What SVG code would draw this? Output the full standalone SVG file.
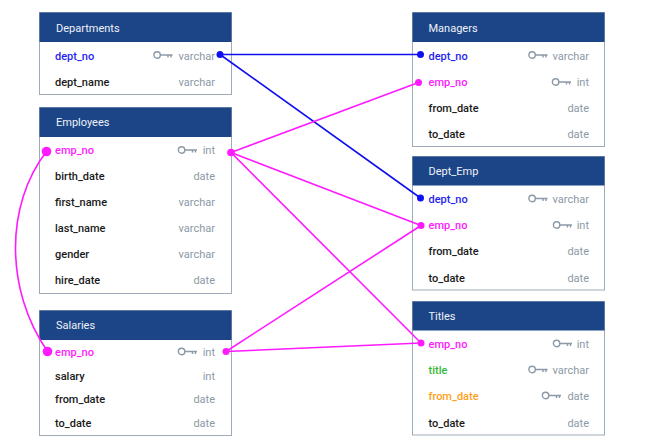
<svg xmlns="http://www.w3.org/2000/svg" width="647" height="448" viewBox="0 0 647 448">
  <style>
    .box { fill: #ffffff; stroke: #9eabb8; stroke-width: 1; }
    .hdr { fill: #1c4587; }
    .ttl { font-family: Roboto, "Liberation Sans", sans-serif; font-size: 11px; fill: #eef2f8; }
    .fld { font-family: Roboto, "Liberation Sans", sans-serif; font-size: 11px; font-weight: 500; fill: #1a1a1a; }
    .typ { font-family: Roboto, "Liberation Sans", sans-serif; font-size: 11px; fill: #8c99a6; text-anchor: end; }
    .pk-blue { fill: #1f1fef; }
    .pk-mag { fill: #ff1aff; }
    .pk-green { fill: #33b833; }
    .pk-orange { fill: #ff9f1a; }
    .key { fill: none; stroke: #8c99a6; stroke-width: 1.4; }
    .lb { fill: none; stroke: #1010ee; stroke-width: 1.6; }
    .lm { fill: none; stroke: #ff1aff; stroke-width: 1.6; }
    .db { fill: #1010ee; }
    .dm { fill: #ff1aff; }
  </style>
  <defs>
    <!-- key glyph: ring + shaft with two teeth, origin at left edge, vertical centre -->
    <g id="key">
      <circle class="key" cx="3.6" cy="0" r="3.2"/>
      <path class="key" d="M6.8,0 H19 M14.5,0 V2.6 M17.5,0 V2.6"/>
    </g>
  </defs>

  <rect width="647" height="448" fill="#ffffff"/>

  <!-- Departments -->
  <g id="departments">
    <rect class="box" x="39.5" y="12.5" width="192" height="82"/>
    <rect class="hdr" x="39.5" y="12.5" width="192" height="29.5"/>
    <text class="ttl" x="56" y="31.5">Departments</text>
    <text class="fld pk-blue" x="55" y="59.5">dept_no</text>
    <use href="#key" x="153.5" y="55"/>
    <text class="typ" x="215" y="59.5">varchar</text>
    <text class="fld" x="55" y="85.5">dept_name</text>
    <text class="typ" x="215" y="85.5">varchar</text>
  </g>

  <!-- Employees -->
  <g id="employees">
    <rect class="box" x="39.5" y="107.5" width="192" height="186"/>
    <rect class="hdr" x="39.5" y="107.5" width="192" height="29.5"/>
    <text class="ttl" x="56" y="126">Employees</text>
    <text class="fld pk-mag" x="55" y="154">emp_no</text>
    <use href="#key" x="178" y="150"/>
    <text class="typ" x="215" y="154">int</text>
    <text class="fld" x="55" y="180">birth_date</text>
    <text class="typ" x="215" y="180">date</text>
    <text class="fld" x="55" y="206">first_name</text>
    <text class="typ" x="215" y="206">varchar</text>
    <text class="fld" x="55" y="232">last_name</text>
    <text class="typ" x="215" y="232">varchar</text>
    <text class="fld" x="55" y="258">gender</text>
    <text class="typ" x="215" y="258">varchar</text>
    <text class="fld" x="55" y="284">hire_date</text>
    <text class="typ" x="215" y="284">date</text>
  </g>

  <!-- Salaries -->
  <g id="salaries">
    <rect class="box" x="39.5" y="310.5" width="192" height="125"/>
    <rect class="hdr" x="39.5" y="310.5" width="192" height="29.5"/>
    <text class="ttl" x="56" y="329">Salaries</text>
    <text class="fld pk-mag" x="55" y="355.5">emp_no</text>
    <use href="#key" x="178" y="351.5"/>
    <text class="typ" x="215" y="355.5">int</text>
    <text class="fld" x="55" y="379.5">salary</text>
    <text class="typ" x="215" y="379.5">int</text>
    <text class="fld" x="55" y="403">from_date</text>
    <text class="typ" x="215" y="403">date</text>
    <text class="fld" x="55" y="427">to_date</text>
    <text class="typ" x="215" y="427">date</text>
  </g>

  <!-- Managers -->
  <g id="managers">
    <rect class="box" x="412.5" y="12.5" width="192" height="134"/>
    <rect class="hdr" x="412.5" y="12.5" width="192" height="29.5"/>
    <text class="ttl" x="428.5" y="31.5">Managers</text>
    <text class="fld pk-blue" x="428.5" y="59.5">dept_no</text>
    <use href="#key" x="528.5" y="55"/>
    <text class="typ" x="589" y="59.5">varchar</text>
    <text class="fld pk-mag" x="428.5" y="86">emp_no</text>
    <use href="#key" x="552" y="82"/>
    <text class="typ" x="589" y="86">int</text>
    <text class="fld" x="428.5" y="111.5">from_date</text>
    <text class="typ" x="589" y="111.5">date</text>
    <text class="fld" x="428.5" y="138">to_date</text>
    <text class="typ" x="589" y="138">date</text>
  </g>

  <!-- Dept_Emp -->
  <g id="dept_emp">
    <rect class="box" x="412.5" y="156.5" width="192" height="133.5"/>
    <rect class="hdr" x="412.5" y="156.5" width="192" height="29"/>
    <text class="ttl" x="428.5" y="175">Dept_Emp</text>
    <text class="fld pk-blue" x="428.5" y="203">dept_no</text>
    <use href="#key" x="528.5" y="198.5"/>
    <text class="typ" x="589" y="203">varchar</text>
    <text class="fld pk-mag" x="428.5" y="229">emp_no</text>
    <use href="#key" x="553" y="225"/>
    <text class="typ" x="589" y="229">int</text>
    <text class="fld" x="428.5" y="255">from_date</text>
    <text class="typ" x="589" y="255">date</text>
    <text class="fld" x="428.5" y="281.5">to_date</text>
    <text class="typ" x="589" y="281.5">date</text>
  </g>

  <!-- Titles -->
  <g id="titles">
    <rect class="box" x="412.5" y="301.5" width="192" height="133.5"/>
    <rect class="hdr" x="412.5" y="301.5" width="192" height="29"/>
    <text class="ttl" x="428.5" y="320">Titles</text>
    <text class="fld pk-mag" x="428.5" y="348">emp_no</text>
    <use href="#key" x="553" y="343.5"/>
    <text class="typ" x="589" y="348">int</text>
    <text class="fld pk-green" x="428.5" y="374">title</text>
    <use href="#key" x="528.5" y="369.5"/>
    <text class="typ" x="589" y="374">varchar</text>
    <text class="fld pk-orange" x="428.5" y="400">from_date</text>
    <use href="#key" x="542" y="395.5"/>
    <text class="typ" x="589" y="400">date</text>
    <text class="fld" x="428.5" y="426.5">to_date</text>
    <text class="typ" x="589" y="426.5">date</text>
  </g>

  <!-- Relationships -->
  <g id="connectors">
    <path class="lb" d="M220,54.5 L420.5,54.5"/>
    <path class="lb" d="M220,54.5 L420.5,198"/>
    <path class="lm" d="M231,152.5 L418.5,82.5"/>
    <path class="lm" d="M231,152.5 L421,225.5"/>
    <path class="lm" d="M231,152.5 L421,343"/>
    <path class="lm" d="M226,351.5 L421,225.5"/>
    <path class="lm" d="M226,351.5 L421,343"/>
    <path class="lm" d="M46.5,151.5 C5,205 5,290 47.5,351.5"/>
    <circle class="db" cx="220" cy="54.5" r="3.5"/>
    <circle class="db" cx="420.5" cy="54.5" r="3.5"/>
    <circle class="db" cx="420.5" cy="198" r="3.5"/>
    <circle class="dm" cx="231" cy="152.5" r="3.8"/>
    <circle class="dm" cx="226" cy="351.5" r="3.5"/>
    <circle class="dm" cx="418.5" cy="82.5" r="3.5"/>
    <circle class="dm" cx="421" cy="225.5" r="3.5"/>
    <circle class="dm" cx="421" cy="343" r="3.5"/>
    <circle class="dm" cx="46.5" cy="151.5" r="4.8"/>
    <circle class="dm" cx="47.5" cy="351.5" r="4.8"/>
  </g>
</svg>
